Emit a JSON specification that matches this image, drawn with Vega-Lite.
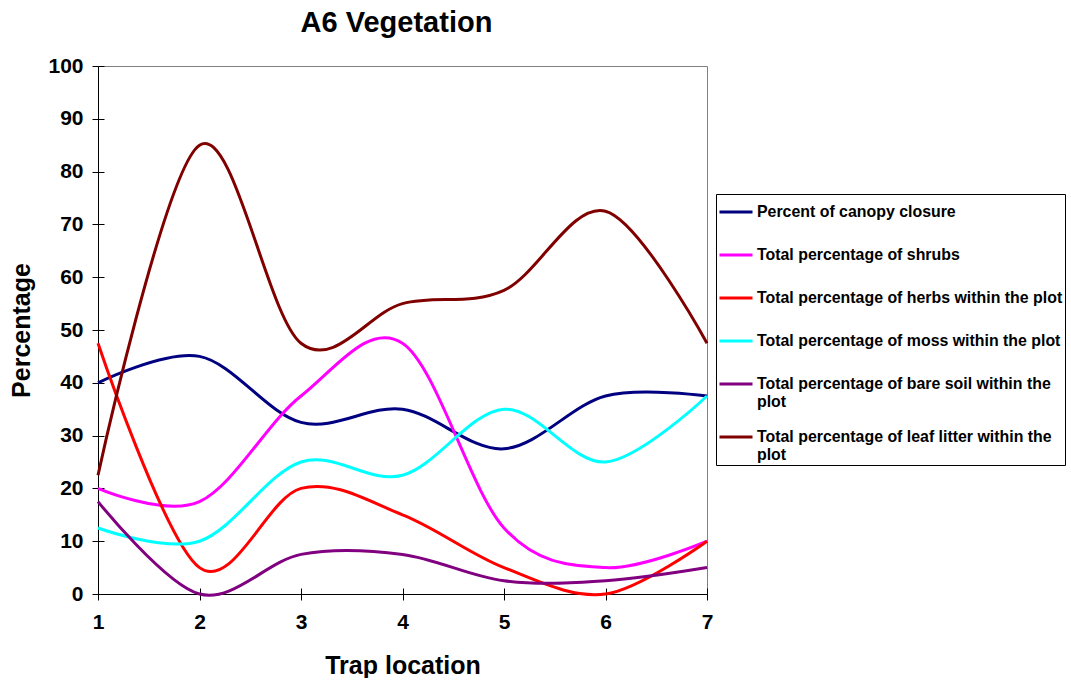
{
  "$schema": "https://vega.github.io/schema/vega-lite/v6.json",
  "width": 609,
  "height": 528,
  "padding": {"left": 9, "top": 9, "right": 2, "bottom": 0},
  "background": "white",
  "title": {
    "text": "A6 Vegetation",
    "font": "Liberation Sans",
    "fontSize": 29,
    "fontWeight": "bold",
    "color": "black",
    "anchor": "middle",
    "frame": "group",
    "offset": 17,
    "dx": -6
  },
  "config": {
    "view": {"stroke": "#808080", "strokeWidth": 1},
    "axis": {
      "domainColor": "black",
      "tickColor": "black",
      "grid": false,
      "labelFlush": false,
      "labelFont": "Liberation Sans",
      "labelFontWeight": "bold",
      "labelColor": "black",
      "titleFont": "Liberation Sans",
      "titleFontWeight": "bold",
      "titleColor": "black",
      "titleFontSize": 25
    }
  },
  "data": {
    "values": [
      {"trap": 1, "series": "Percent of canopy closure", "pct": 40},
      {"trap": 2, "series": "Percent of canopy closure", "pct": 45},
      {"trap": 3, "series": "Percent of canopy closure", "pct": 32.5},
      {"trap": 4, "series": "Percent of canopy closure", "pct": 35},
      {"trap": 5, "series": "Percent of canopy closure", "pct": 27.5},
      {"trap": 6, "series": "Percent of canopy closure", "pct": 37.5},
      {"trap": 7, "series": "Percent of canopy closure", "pct": 37.5},
      {"trap": 1, "series": "Total percentage of shrubs", "pct": 20},
      {"trap": 2, "series": "Total percentage of shrubs", "pct": 17.5},
      {"trap": 3, "series": "Total percentage of shrubs", "pct": 37.5},
      {"trap": 4, "series": "Total percentage of shrubs", "pct": 47.5},
      {"trap": 5, "series": "Total percentage of shrubs", "pct": 12.5},
      {"trap": 6, "series": "Total percentage of shrubs", "pct": 5},
      {"trap": 7, "series": "Total percentage of shrubs", "pct": 10},
      {"trap": 1, "series": "Total percentage of herbs within the plot", "pct": 47.5},
      {"trap": 2, "series": "Total percentage of herbs within the plot", "pct": 5},
      {"trap": 3, "series": "Total percentage of herbs within the plot", "pct": 20},
      {"trap": 4, "series": "Total percentage of herbs within the plot", "pct": 15},
      {"trap": 5, "series": "Total percentage of herbs within the plot", "pct": 5},
      {"trap": 6, "series": "Total percentage of herbs within the plot", "pct": 0},
      {"trap": 7, "series": "Total percentage of herbs within the plot", "pct": 10},
      {"trap": 1, "series": "Total percentage of moss within the plot", "pct": 12.5},
      {"trap": 2, "series": "Total percentage of moss within the plot", "pct": 10},
      {"trap": 3, "series": "Total percentage of moss within the plot", "pct": 25},
      {"trap": 4, "series": "Total percentage of moss within the plot", "pct": 22.5},
      {"trap": 5, "series": "Total percentage of moss within the plot", "pct": 35},
      {"trap": 6, "series": "Total percentage of moss within the plot", "pct": 25},
      {"trap": 7, "series": "Total percentage of moss within the plot", "pct": 37.5},
      {"trap": 1, "series": "Total percentage of bare soil within the plot", "pct": 17.5},
      {"trap": 2, "series": "Total percentage of bare soil within the plot", "pct": 0},
      {"trap": 3, "series": "Total percentage of bare soil within the plot", "pct": 7.5},
      {"trap": 4, "series": "Total percentage of bare soil within the plot", "pct": 7.5},
      {"trap": 5, "series": "Total percentage of bare soil within the plot", "pct": 2.5},
      {"trap": 6, "series": "Total percentage of bare soil within the plot", "pct": 2.5},
      {"trap": 7, "series": "Total percentage of bare soil within the plot", "pct": 5},
      {"trap": 1, "series": "Total percentage of leaf litter within the plot", "pct": 22.5},
      {"trap": 2, "series": "Total percentage of leaf litter within the plot", "pct": 85},
      {"trap": 3, "series": "Total percentage of leaf litter within the plot", "pct": 47.5},
      {"trap": 4, "series": "Total percentage of leaf litter within the plot", "pct": 55},
      {"trap": 5, "series": "Total percentage of leaf litter within the plot", "pct": 57.5},
      {"trap": 6, "series": "Total percentage of leaf litter within the plot", "pct": 72.5},
      {"trap": 7, "series": "Total percentage of leaf litter within the plot", "pct": 47.5}
    ]
  },
  "resolve": {"axis": {"x": "independent", "y": "independent"}},
  "layer": [
    {
      "mark": {"type": "line", "interpolate": "cardinal", "tension": 0, "strokeWidth": 3},
      "encoding": {
        "x": {
          "field": "trap",
          "type": "quantitative",
          "scale": {"domain": [1, 7], "nice": false, "zero": false},
          "axis": {
            "orient": "bottom",
            "title": "Trap location",
            "values": [1, 2, 3, 4, 5, 6, 7],
            "format": "d",
            "labelFontSize": 21,
            "tickSize": 6,
            "labelPadding": 11,
            "titlePadding": 21
          }
        },
        "y": {
          "field": "pct",
          "type": "quantitative",
          "scale": {"domain": [0, 100], "nice": false},
          "axis": {
            "orient": "left",
            "title": "Percentage",
            "values": [0, 10, 20, 30, 40, 50, 60, 70, 80, 90, 100],
            "labelFontSize": 21,
            "tickSize": 6,
            "labelPadding": 9,
            "titlePadding": 13
          }
        },
        "color": {
          "field": "series",
          "type": "nominal",
          "scale": {
            "domain": [
              "Percent of canopy closure",
              "Total percentage of shrubs",
              "Total percentage of herbs within the plot",
              "Total percentage of moss within the plot",
              "Total percentage of bare soil within the plot",
              "Total percentage of leaf litter within the plot"
            ],
            "range": ["#000080", "#FF00FF", "#FF0000", "#00FFFF", "#800080", "#800000"]
          },
          "legend": {
            "title": null,
            "orient": "none",
            "legendX": 618,
            "legendY": 128,
            "symbolType": "stroke",
            "symbolSize": 1089,
            "symbolStrokeWidth": 3,
            "labelFont": "Liberation Sans",
            "labelFontWeight": "bold",
            "labelFontSize": 15.9,
            "labelColor": "black",
            "labelLimit": 400,
            "labelOffset": 3,
            "labelLineHeight": 18,
            "rowPadding": 11,
            "clipHeight": 32,
            "padding": 2,
            "strokeColor": "black",
            "fillColor": "white",
            "labelExpr": "datum.label == 'Total percentage of bare soil within the plot' ? ['Total percentage of bare soil within the', 'plot'] : datum.label == 'Total percentage of leaf litter within the plot' ? ['Total percentage of leaf litter within the', 'plot'] : datum.label"
          }
        }
      }
    },
    {
      "data": {"values": []},
      "mark": {"type": "rule"},
      "encoding": {
        "x": {
          "field": "trap",
          "type": "quantitative",
          "scale": {"domain": [1, 7], "nice": false, "zero": false},
          "axis": {
            "orient": "bottom",
            "title": null,
            "labels": false,
            "domain": false,
            "values": [1, 2, 3, 4, 5, 6, 7],
            "tickSize": -6
          }
        },
        "y": {
          "field": "pct",
          "type": "quantitative",
          "scale": {"domain": [0, 100], "nice": false},
          "axis": {
            "orient": "left",
            "title": null,
            "labels": false,
            "domain": false,
            "values": [0, 10, 20, 30, 40, 50, 60, 70, 80, 90, 100],
            "tickSize": -6
          }
        }
      }
    }
  ]
}
